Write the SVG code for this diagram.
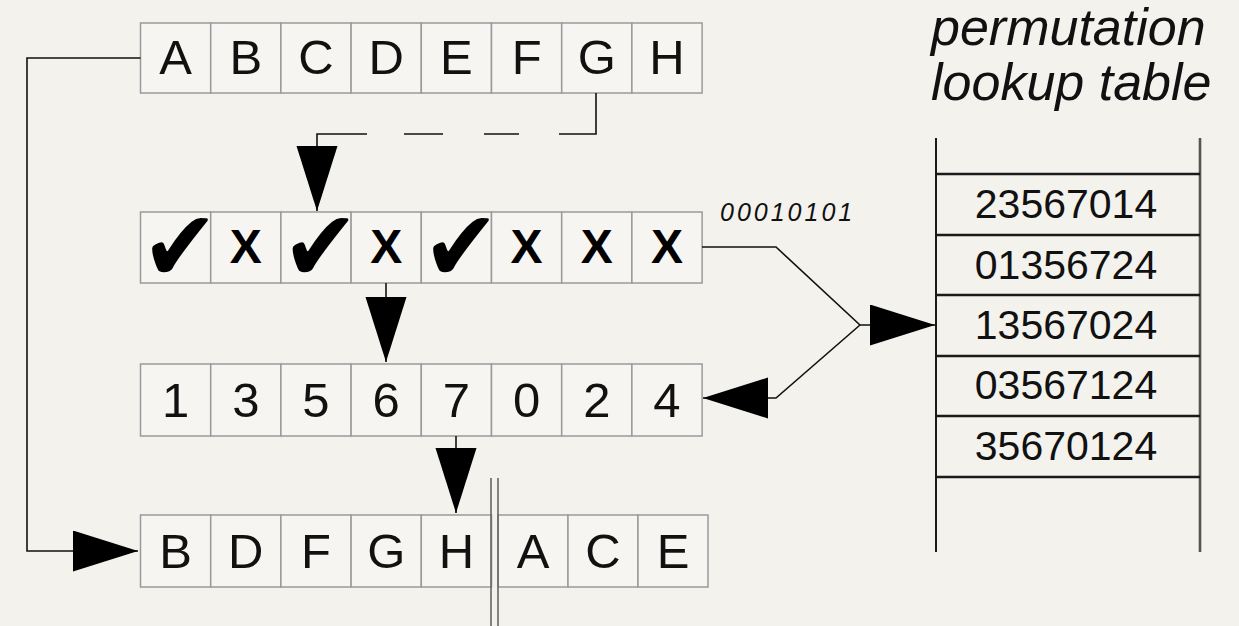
<svg xmlns="http://www.w3.org/2000/svg" width="1239" height="626" viewBox="0 0 1239 626">
<defs>
<style>
.cell{fill:#f6f5f1;stroke:#9a9a9a;stroke-width:1.5}
.t{font-family:"Liberation Sans",Arial,sans-serif;font-size:49px;fill:#111;text-anchor:middle}
.x{font-family:"Liberation Sans",Arial,sans-serif;font-size:48px;font-weight:bold;fill:#000;text-anchor:middle}
.ck{font-family:"DejaVu Sans",sans-serif;font-size:92px;fill:#000;text-anchor:middle}
.num{font-family:"Liberation Sans",Arial,sans-serif;font-size:41px;fill:#111;text-anchor:middle}
.it{font-family:"Liberation Sans",Arial,sans-serif;font-style:italic;fill:#111}
.ln{fill:none;stroke:#111;stroke-width:1.6}
.tl{stroke:#1a1a1a;stroke-width:2.5}
.dbl{stroke:#666;stroke-width:1.6}
</style>
<marker id="ah" markerUnits="userSpaceOnUse" markerWidth="66" markerHeight="42" refX="65" refY="20.5" orient="auto" viewBox="0 0 66 42">
<path d="M0,0 L65,20.5 L0,41 Z" fill="#000"/>
</marker>
</defs>
<rect x="0" y="0" width="1239" height="626" fill="#f4f2ed"/>

<g id="row-input">
<rect class="cell" x="140.5" y="23" width="70.2" height="70"/>
<rect class="cell" x="210.7" y="23" width="70.2" height="70"/>
<rect class="cell" x="280.9" y="23" width="70.2" height="70"/>
<rect class="cell" x="351.1" y="23" width="70.2" height="70"/>
<rect class="cell" x="421.3" y="23" width="70.2" height="70"/>
<rect class="cell" x="491.5" y="23" width="70.2" height="70"/>
<rect class="cell" x="561.7" y="23" width="70.2" height="70"/>
<rect class="cell" x="631.9" y="23" width="70.2" height="70"/>
<text class="t" x="175.6" y="74">A</text>
<text class="t" x="245.8" y="74">B</text>
<text class="t" x="316" y="74">C</text>
<text class="t" x="386.2" y="74">D</text>
<text class="t" x="456.4" y="74">E</text>
<text class="t" x="526.6" y="74">F</text>
<text class="t" x="596.8" y="74">G</text>
<text class="t" x="667" y="74">H</text>
</g>

<g id="row-mask">
<rect class="cell" x="140.5" y="212" width="70.2" height="71"/>
<rect class="cell" x="210.7" y="212" width="70.2" height="71"/>
<rect class="cell" x="280.9" y="212" width="70.2" height="71"/>
<rect class="cell" x="351.1" y="212" width="70.2" height="71"/>
<rect class="cell" x="421.3" y="212" width="70.2" height="71"/>
<rect class="cell" x="491.5" y="212" width="70.2" height="71"/>
<rect class="cell" x="561.7" y="212" width="70.2" height="71"/>
<rect class="cell" x="631.9" y="212" width="70.2" height="71"/>
<text class="ck" transform="translate(180,281) scale(1,1.08)">✔</text>
<text class="x" x="245.8" y="263">X</text>
<text class="ck" transform="translate(320.5,281) scale(1,1.08)">✔</text>
<text class="x" x="386.2" y="263">X</text>
<text class="ck" transform="translate(461,281) scale(1,1.08)">✔</text>
<text class="x" x="526.6" y="263">X</text>
<text class="x" x="596.8" y="263">X</text>
<text class="x" x="667" y="263">X</text>
</g>

<g id="row-indices">
<rect class="cell" x="140.5" y="364" width="70.2" height="72"/>
<rect class="cell" x="210.7" y="364" width="70.2" height="72"/>
<rect class="cell" x="280.9" y="364" width="70.2" height="72"/>
<rect class="cell" x="351.1" y="364" width="70.2" height="72"/>
<rect class="cell" x="421.3" y="364" width="70.2" height="72"/>
<rect class="cell" x="491.5" y="364" width="70.2" height="72"/>
<rect class="cell" x="561.7" y="364" width="70.2" height="72"/>
<rect class="cell" x="631.9" y="364" width="70.2" height="72"/>
<text class="t" x="175.6" y="417">1</text>
<text class="t" x="245.8" y="417">3</text>
<text class="t" x="316" y="417">5</text>
<text class="t" x="386.2" y="417">6</text>
<text class="t" x="456.4" y="417">7</text>
<text class="t" x="526.6" y="417">0</text>
<text class="t" x="596.8" y="417">2</text>
<text class="t" x="667" y="417">4</text>
</g>

<g id="row-output">
<rect class="cell" x="140.5" y="515" width="70.2" height="72"/>
<rect class="cell" x="210.7" y="515" width="70.2" height="72"/>
<rect class="cell" x="280.9" y="515" width="70.2" height="72"/>
<rect class="cell" x="351.1" y="515" width="70.2" height="72"/>
<rect class="cell" x="421.3" y="515" width="70.2" height="72"/>
<rect class="cell" x="498" y="515" width="70" height="72"/>
<rect class="cell" x="568" y="515" width="70" height="72"/>
<rect class="cell" x="638" y="515" width="70" height="72"/>
<text class="t" x="175.6" y="568">B</text>
<text class="t" x="245.8" y="568">D</text>
<text class="t" x="316" y="568">F</text>
<text class="t" x="386.2" y="568">G</text>
<text class="t" x="456.4" y="568">H</text>
<text class="t" x="533" y="568">A</text>
<text class="t" x="603" y="568">C</text>
<text class="t" x="673" y="568">E</text>
<line class="dbl" x1="491" y1="478" x2="491" y2="626"/>
<line class="dbl" x1="498" y1="478" x2="498" y2="626"/>
</g>

<g id="lookup-table">
<text class="it" x="931" y="45" font-size="52">permutation</text>
<text class="it" x="931" y="100" font-size="52">lookup table</text>
<line x1="936" y1="138" x2="936" y2="552" stroke="#1a1a1a" stroke-width="2"/>
<line x1="1200" y1="138" x2="1200" y2="552" stroke="#555" stroke-width="2.6"/>
<line class="tl" x1="936" y1="174" x2="1200" y2="174"/>
<line class="tl" x1="936" y1="235" x2="1200" y2="235"/>
<line class="tl" x1="936" y1="295" x2="1200" y2="295"/>
<line class="tl" x1="936" y1="356" x2="1200" y2="356"/>
<line class="tl" x1="936" y1="416" x2="1200" y2="416"/>
<line class="tl" x1="936" y1="477" x2="1200" y2="477"/>
<text class="num" x="1066" y="218">23567014</text>
<text class="num" x="1066" y="279">01356724</text>
<text class="num" x="1066" y="339">13567024</text>
<text class="num" x="1066" y="399">03567124</text>
<text class="num" x="1066" y="460">35670124</text>
</g>

<g id="mask-label">
<text class="it" x="720" y="221" font-size="25" letter-spacing="3">00010101</text>
</g>

<g id="connectors">
<path class="ln" d="M140.5 58 H27 V551 H138" marker-end="url(#ah)"/>
<path class="ln" d="M596 93 V134 H559"/>
<line class="ln" x1="519" y1="134" x2="484" y2="134"/>
<line class="ln" x1="443" y1="134" x2="404" y2="134"/>
<path class="ln" d="M367 134 H317 V211" marker-end="url(#ah)"/>
<path class="ln" d="M386 283 V362" marker-end="url(#ah)"/>
<path class="ln" d="M456 436 V513" marker-end="url(#ah)"/>
<path class="ln" d="M702 247 H776 L860 325 H935" marker-end="url(#ah)"/>
<path class="ln" d="M860 325 L776 398 H703" marker-end="url(#ah)"/>
</g>
</svg>
